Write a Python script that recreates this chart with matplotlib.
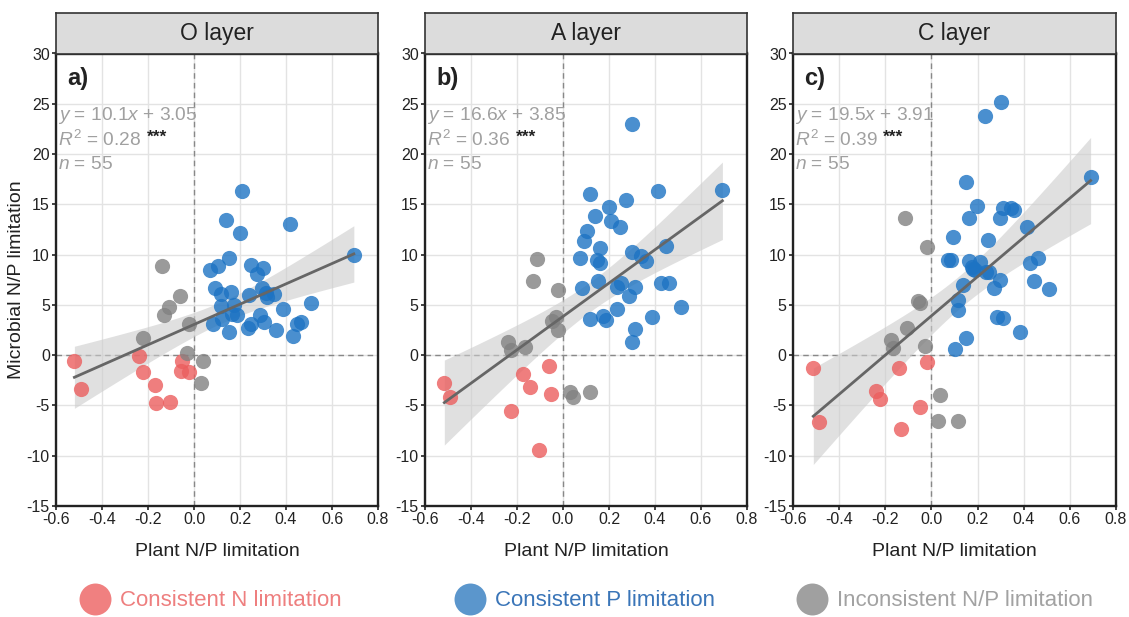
import numpy as np
import matplotlib
matplotlib.use("Agg")
import matplotlib.pyplot as plt

plt.rcParams['font.family'] = ['Liberation Sans', 'DejaVu Sans']
plt.rcParams['mathtext.fontset'] = 'custom'
plt.rcParams['mathtext.rm'] = 'Liberation Sans'
plt.rcParams['mathtext.it'] = 'Liberation Sans:italic'
plt.rcParams['axes.unicode_minus'] = False

# Panel info
layers = ["O layer", "A layer", "C layer"]
panel_tags = ["a)", "b)", "c)"]
slopes = [10.1, 16.6, 19.5]
intercepts = [3.05, 3.85, 3.91]
r2_values = [0.28, 0.36, 0.39]
n_values = [55, 55, 55]

# O layer
o_n_x = [-0.52, -0.49, -0.24, -0.22, -0.17, -0.165, -0.105, -0.05, -0.055, -0.02]
o_n_y = [-0.6, -3.4, -0.1, -1.7, -3.0, -4.8, -4.7, -0.6, -1.6, -1.7]
o_mix_x = [-0.14, -0.06, -0.11, -0.13, -0.02, -0.22, -0.03, 0.04, 0.03]
o_mix_y = [8.9, 5.9, 4.8, 4.0, 3.1, 1.7, 0.2, -0.6, -2.8]
o_p_x = [0.21, 0.14, 0.198, 0.417, 0.695, 0.151, 0.103, 0.071, 0.249, 0.302,
         0.275, 0.092, 0.116, 0.161, 0.237, 0.295, 0.312, 0.346, 0.317, 0.116,
         0.176, 0.388, 0.51, 0.164, 0.188, 0.288, 0.084, 0.12, 0.304, 0.249,
         0.234, 0.356, 0.464, 0.446, 0.151, 0.43]
o_p_y = [16.3, 13.4, 12.1, 13.0, 10.0, 9.7, 8.9, 8.5, 9.0, 8.7,
         8.1, 6.7, 6.1, 6.3, 6.0, 6.7, 6.2, 6.1, 5.8, 4.9,
         5.0, 4.6, 5.2, 4.1, 4.0, 4.0, 3.1, 3.6, 3.3, 3.1,
         2.7, 2.5, 3.3, 3.1, 2.3, 1.9]

# A layer
a_n_x = [-0.516, -0.491, -0.06, -0.176, -0.142, -0.051, -0.225, -0.105]
a_n_y = [-2.8, -4.2, -1.1, -1.9, -3.2, -3.9, -5.6, -9.4]
a_mix_x = [-0.115, -0.131, -0.022, -0.03, -0.05, -0.022, -0.24, -0.225, -0.167,
           0.032, 0.042, 0.116]
a_mix_y = [9.6, 7.4, 6.5, 3.8, 3.4, 2.5, 1.3, 0.5, 0.8, -3.7, -4.2, -3.7]
a_p_x = [0.30, 0.693, 0.414, 0.116, 0.275, 0.199, 0.138, 0.209, 0.249, 0.105,
         0.093, 0.163, 0.073, 0.148, 0.163, 0.30, 0.34, 0.359, 0.448, 0.151,
         0.084, 0.25, 0.235, 0.315, 0.286, 0.427, 0.462, 0.235, 0.512, 0.385,
         0.116, 0.172, 0.186, 0.315, 0.30]
a_p_y = [23.0, 16.4, 16.3, 16.0, 15.4, 14.7, 13.8, 13.3, 12.7, 12.3,
         11.4, 10.7, 9.7, 9.5, 9.2, 10.3, 9.9, 9.4, 10.9, 7.4,
         6.7, 7.2, 6.8, 6.8, 5.9, 7.2, 7.2, 4.6, 4.8, 3.8,
         3.6, 3.9, 3.5, 2.6, 1.3]

# C layer
c_n_x = [-0.512, -0.487, -0.14, -0.02, -0.241, -0.221, -0.051, -0.132]
c_n_y = [-1.3, -6.6, -1.3, -0.7, -3.6, -4.4, -5.2, -7.3]
c_mix_x = [-0.113, -0.02, -0.058, -0.051, -0.104, -0.175, -0.166, -0.029,
           0.039, 0.029, 0.114]
c_mix_y = [13.6, 10.8, 5.4, 5.2, 2.7, 1.5, 0.7, 0.9, -4.0, -6.5, -6.5]
c_p_x = [0.301, 0.233, 0.69, 0.149, 0.197, 0.311, 0.344, 0.357, 0.161, 0.299,
         0.414, 0.093, 0.247, 0.072, 0.084, 0.161, 0.211, 0.174, 0.181, 0.463,
         0.428, 0.236, 0.25, 0.299, 0.137, 0.272, 0.444, 0.509, 0.117, 0.114,
         0.285, 0.311, 0.385, 0.149, 0.104, 0.188]
c_p_y = [25.2, 23.8, 17.7, 17.2, 14.8, 14.6, 14.6, 14.4, 13.6, 13.6,
         12.7, 11.8, 11.5, 9.5, 9.5, 9.4, 9.3, 8.8, 8.6, 9.7,
         9.2, 8.3, 8.3, 7.5, 7.0, 6.7, 7.4, 6.6, 5.5, 4.5,
         3.8, 3.7, 2.3, 1.7, 0.6, 8.5]

panels = [
    (o_n_x, o_n_y, o_p_x, o_p_y, o_mix_x, o_mix_y),
    (a_n_x, a_n_y, a_p_x, a_p_y, a_mix_x, a_mix_y),
    (c_n_x, c_n_y, c_p_x, c_p_y, c_mix_x, c_mix_y),
]

group_labels = ["Consistent N limitation", "Consistent P limitation",
                "Inconsistent N/P limitation"]
point_colors = ["#eb5e5e", "#1d73c3", "#818181"]
legend_colors = ["#f08080", "#5b96cc", "#a0a0a0"]
legend_text_colors = ["#ee7f7f", "#3a75b8", "#a2a2a2"]

W, H = 1129, 617
fig = plt.figure(figsize=(W / 100, H / 100), dpi=100)

# axes boxes in pixels: left, right
lefts = [56, 425, 793]
rights = [378, 747, 1116]
ax_top, ax_bot = 53.5, 506
strip_top = 12.7

t_crit = 2.006  # 95% t value, df = 53

for i, (nx, ny, px, py, mx, my) in enumerate(panels):
    l, r = lefts[i], rights[i]
    ax = fig.add_axes([l / W, (H - ax_bot) / H, (r - l) / W, (ax_bot - ax_top) / H])
    ax.set_xlim(-0.6, 0.8)
    ax.set_ylim(-15, 30)
    ax.set_xticks(np.arange(-0.6, 0.81, 0.2))
    ax.set_yticks(np.arange(-15, 31, 5))
    ax.xaxis.set_major_formatter(plt.FormatStrFormatter('%.1f'))
    ax.grid(True, color="#e3e3e3", lw=1)
    ax.set_axisbelow(True)
    ax.axhline(0, color="#888888", ls=(0, (4, 3)), lw=1, zorder=1)
    ax.axvline(0, color="#888888", ls=(0, (4, 3)), lw=1, zorder=1)

    # regression line and 95% band
    all_x = np.array(nx + px + mx)
    all_y = np.array(ny + py + my)
    k, b = slopes[i], intercepts[i]
    n = len(all_x)
    resid = all_y - (k * all_x + b)
    s = np.sqrt(np.sum(resid ** 2) / (n - 2))
    xbar = all_x.mean()
    sxx = np.sum((all_x - xbar) ** 2)
    xs = np.linspace(all_x.min(), all_x.max(), 100)
    fit = k * xs + b
    se = s * np.sqrt(1 / n + (xs - xbar) ** 2 / sxx)
    ax.fill_between(xs, fit - t_crit * se, fit + t_crit * se,
                    color="#cccccc", alpha=0.6, lw=0, zorder=2)

    for (gx, gy), col in zip([(nx, ny), (px, py), (mx, my)], point_colors):
        ax.scatter(gx, gy, s=120, color=col, alpha=0.8, lw=0, zorder=3)

    ax.plot(xs, fit, color="#666666", lw=2, zorder=4)

    for sp in ax.spines.values():
        sp.set_linewidth(1.7)
        sp.set_color("#222222")
    ax.tick_params(direction="out", length=3, width=1.2, pad=1.5,
                   labelsize=11.5, colors="#222222")
    ax.set_xlabel("Plant N/P limitation", fontsize=14, color="#222222", labelpad=11)
    if i == 0:
        ax.set_ylabel("Microbial N/P limitation", fontsize=14, color="#222222",
                      labelpad=1)

    ax.text(0.035, 0.945, panel_tags[i], transform=ax.transAxes, fontsize=17,
            fontweight="bold", va="center", ha="left", color="#222222")
    txt_kw = dict(transform=ax.transAxes, fontsize=13.8, color="#a0a0a0",
                  va="center", ha="left")
    ax.text(0.005, 0.864, r"$\it{y}$ = %.1f$\it{x}$ + %.2f" % (k, b), **txt_kw)
    r2_txt = ax.text(0.005, 0.809, r"$\it{R}^2$ = %.2f" % r2_values[i], **txt_kw)
    ax.annotate("***", xy=(1, 1), xycoords=r2_txt, xytext=(4, 0),
                textcoords="offset points", va="top", ha="left",
                fontsize=12.5, fontweight="bold", color="#222222")
    ax.text(0.005, 0.754, r"$\it{n}$ = %d" % n_values[i], **txt_kw)

    # strip header
    sax = fig.add_axes([l / W, (H - ax_top) / H, (r - l) / W, (ax_top - strip_top) / H])
    sax.set_facecolor("#dcdcdc")
    sax.set_xticks([])
    sax.set_yticks([])
    for sp in sax.spines.values():
        sp.set_linewidth(1.2)
        sp.set_color("#333333")
    sax.text(0.5, 0.5, layers[i], transform=sax.transAxes, ha="center",
             va="center", fontsize=16.5, color="#222222")

# legend along the bottom
leg = fig.add_axes([0, 0, 1, 1])
leg.set_xlim(0, W)
leg.set_ylim(H, 0)
leg.axis("off")
leg_circle_x = [95, 470, 812]
for lx, lab, c, tc in zip(leg_circle_x, group_labels, legend_colors, legend_text_colors):
    leg.plot(lx, 599, "o", ms=23, color=c, mec="none")
    leg.text(lx + 25, 600, lab, fontsize=16, color=tc, va="center", ha="left")

fig.savefig("out.png", dpi=100)
